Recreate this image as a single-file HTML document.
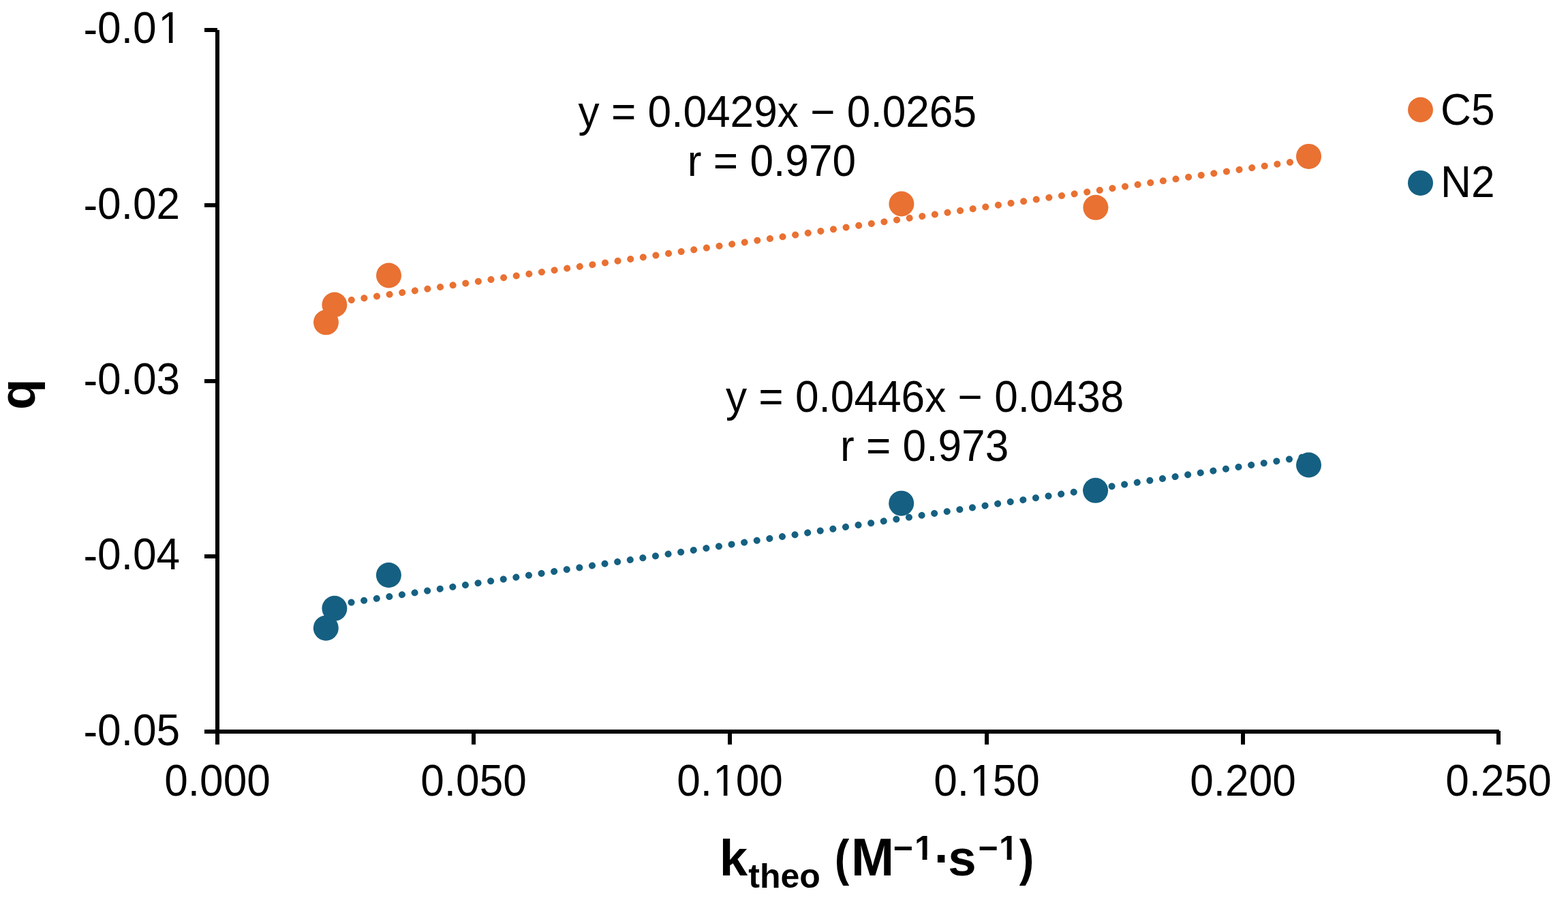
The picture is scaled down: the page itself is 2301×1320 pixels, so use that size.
<!DOCTYPE html>
<html>
<head>
<meta charset="utf-8">
<style>
html,body{margin:0;padding:0;background:#fff;}
body{width:2301px;height:1320px;overflow:hidden;}
svg{display:block;}
text{font-family:"Liberation Sans",Arial,sans-serif;fill:#000;}
.t{font-size:64px;}
.b{font-weight:bold;}
</style>
</head>
<body>
<svg width="2301" height="1320" viewBox="0 0 2301 1320">
<rect x="0" y="0" width="2301" height="1320" fill="#fff"/>
<!-- axes -->
<g fill="#000" shape-rendering="crispEdges">
  <rect x="316" y="44" width="6" height="1048"/>
  <rect x="300" y="1070" width="1900" height="6"/>
  <rect x="300" y="41" width="19" height="6"/>
  <rect x="300" y="298" width="19" height="6"/>
  <rect x="300" y="556" width="19" height="6"/>
  <rect x="300" y="813" width="19" height="6"/>
  <rect x="692" y="1073" width="6" height="19"/>
  <rect x="1068" y="1073" width="6" height="19"/>
  <rect x="1445" y="1073" width="6" height="19"/>
  <rect x="1821" y="1073" width="6" height="19"/>
  <rect x="2196" y="1072" width="6" height="20"/>
</g>
<!-- y labels -->
<g class="t" text-anchor="end">
  <text transform="translate(266.9,63) scale(0.972,1)"><tspan dy="1.6">-</tspan><tspan dy="-1.6">0.0</tspan><tspan dx="2.78">1</tspan></text>
  <text transform="translate(264.2,321) scale(0.972,1)"><tspan dy="1.6">-</tspan><tspan dy="-1.6">0.02</tspan></text>
  <text transform="translate(264.2,578) scale(0.972,1)"><tspan dy="1.6">-</tspan><tspan dy="-1.6">0.03</tspan></text>
  <text transform="translate(264.2,835) scale(0.972,1)"><tspan dy="1.6">-</tspan><tspan dy="-1.6">0.04</tspan></text>
  <text transform="translate(264.2,1093) scale(0.972,1)"><tspan dy="1.6">-</tspan><tspan dy="-1.6">0.05</tspan></text>
</g>
<!-- x labels -->
<g class="t" text-anchor="middle">
  <text transform="translate(319,1167) scale(0.972,1)">0.000</text>
  <text transform="translate(695,1167) scale(0.972,1)">0.050</text>
  <text transform="translate(1071,1167) scale(0.972,1)">0.<tspan dx="1.23">1</tspan><tspan dx="-1.23">00</tspan></text>
  <text transform="translate(1448,1167) scale(0.972,1)">0.<tspan dx="1.34">1</tspan><tspan dx="-1.34">50</tspan></text>
  <text transform="translate(1824,1167) scale(0.972,1)">0.200</text>
  <text transform="translate(2199,1167) scale(0.972,1)">0.250</text>
</g>
<!-- trendlines -->
<line x1="478.5" y1="445.5" x2="1920.5" y2="233.9" stroke="#E97132" stroke-width="10" stroke-linecap="round" stroke-dasharray="0.1 18.71"/>
<line x1="478.3" y1="889.2" x2="1920.5" y2="669.2" stroke="#156082" stroke-width="10" stroke-linecap="round" stroke-dasharray="0.1 18.715"/>
<!-- markers -->
<g fill="#E97132">
  <circle cx="478.5" cy="472.8" r="18.5"/>
  <circle cx="490.9" cy="447" r="18.5"/>
  <circle cx="570.5" cy="404" r="18.5"/>
  <circle cx="1322.9" cy="299" r="18.5"/>
  <circle cx="1607.9" cy="304.3" r="18.5"/>
  <circle cx="1920.5" cy="229.4" r="18.5"/>
</g>
<g fill="#156082">
  <circle cx="478.3" cy="921.2" r="18.5"/>
  <circle cx="490.9" cy="892.3" r="18.5"/>
  <circle cx="570.4" cy="843.5" r="18.5"/>
  <circle cx="1322.7" cy="738.2" r="18.5"/>
  <circle cx="1607.6" cy="719.3" r="18.5"/>
  <circle cx="1920.5" cy="682" r="18.5"/>
</g>
<!-- equations -->
<g class="t" text-anchor="middle">
  <text transform="translate(1140.8,186) scale(0.972,1)">y = 0.0429x − 0.0265</text>
  <text transform="translate(1132.5,258) scale(0.972,1)">r = 0.970</text>
  <text transform="translate(1357.2,604.3) scale(0.972,1)">y = 0.0446x − 0.0438</text>
  <text transform="translate(1356.6,676) scale(0.972,1)">r = 0.973</text>
</g>
<!-- legend -->
<circle cx="2084.5" cy="161" r="18.5" fill="#E97132"/>
<circle cx="2084.5" cy="268.4" r="18.5" fill="#156082"/>
<g class="t">
  <text transform="translate(2114,182.5) scale(0.972,1)">C5</text>
  <text transform="translate(2114,289) scale(0.972,1)">N2</text>
</g>
<!-- axis titles -->
<text class="b" font-size="74.5" transform="translate(50.7,601) rotate(-90)">q</text>
<text class="b" font-size="74.5" y="1284"><tspan x="1055.7">k</tspan><tspan font-size="50" x="1098.3" y="1301.5">theo</tspan><tspan y="1284"> </tspan><tspan x="1224.8" textLength="21.46" lengthAdjust="spacingAndGlyphs">(</tspan><tspan x="1248.9" font-size="78.5" textLength="63.04" lengthAdjust="spacingAndGlyphs">M</tspan><tspan x="1310.7" y="1261" font-size="50">−</tspan><tspan font-size="50" dx="2">1</tspan><tspan x="1370.8" y="1284">·</tspan><tspan x="1391.3">s</tspan><tspan x="1435.6" y="1261" font-size="50">−</tspan><tspan font-size="50" dx="1.2">1</tspan><tspan x="1495.8" y="1284" textLength="21.58" lengthAdjust="spacingAndGlyphs">)</tspan></text>
<!-- trim serif feet of "1" to mimic the sans "1" of the original -->
<g fill="#fff">
  <rect x="236" y="57.6" width="11.94" height="6.9"/>
  <rect x="253.44" y="57.6" width="11.56" height="6.9"/>
  <rect x="1050" y="1161.6" width="11.89" height="6.9"/>
  <rect x="1067.39" y="1161.6" width="11.61" height="6.9"/>
  <rect x="1427" y="1161.6" width="11.99" height="6.9"/>
  <rect x="1444.49" y="1161.6" width="11.51" height="6.9"/>
  <rect x="1344" y="1255.4" width="9.57" height="6.9"/>
  <rect x="1360.43" y="1255.4" width="9.07" height="6.9"/>
  <rect x="1468" y="1255.4" width="9.67" height="6.9"/>
  <rect x="1484.53" y="1255.4" width="8.97" height="6.9"/>
</g>
</svg>
</body>
</html>
